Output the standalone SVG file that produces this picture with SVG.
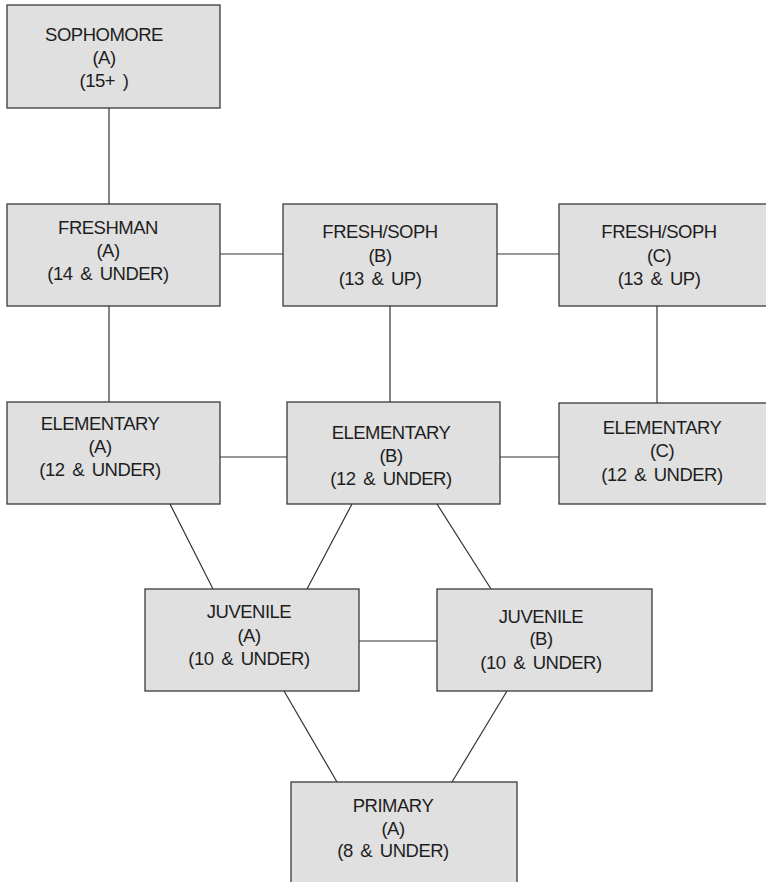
<svg xmlns="http://www.w3.org/2000/svg" width="766" height="882" viewBox="0 0 766 882">
<style>
.box{fill:#e0e0e0;stroke:#3a3a3a;stroke-width:1.3}
.t{font-family:"Liberation Sans",Arial,sans-serif;font-size:18.5px;fill:#1e1e1e;text-anchor:middle;letter-spacing:-0.5px;word-spacing:3px}
.c line{stroke:#333;stroke-width:1.2}
</style>
<rect width="766" height="882" fill="#ffffff"/>
<g class="c" id="connectors">
<line x1="109" y1="108" x2="109" y2="204"/>
<line x1="220" y1="254" x2="283" y2="254"/>
<line x1="497" y1="254" x2="559" y2="254"/>
<line x1="109" y1="306" x2="109" y2="402"/>
<line x1="390" y1="306" x2="390" y2="402"/>
<line x1="657" y1="306" x2="657" y2="403"/>
<line x1="220" y1="457" x2="287" y2="457"/>
<line x1="500" y1="457" x2="559" y2="457"/>
<line x1="170" y1="504" x2="213" y2="589"/>
<line x1="352" y1="504" x2="307" y2="589"/>
<line x1="437" y1="504" x2="491" y2="589"/>
<line x1="359" y1="641" x2="437" y2="641"/>
<line x1="284" y1="691" x2="337" y2="782"/>
<line x1="507" y1="691" x2="452" y2="782"/>
</g>
<g id="sophomore-a">
<rect class="box" x="7" y="5" width="213" height="103"/>
<text class="t" x="104" y="41">SOPHOMORE</text>
<text class="t" x="104" y="64">(A)</text>
<text class="t" x="104" y="87">(15+ )</text>
</g>
<g id="freshman-a">
<rect class="box" x="7" y="204" width="213" height="102"/>
<text class="t" x="108" y="234">FRESHMAN</text>
<text class="t" x="108" y="257">(A)</text>
<text class="t" x="108" y="280">(14 &amp; UNDER)</text>
</g>
<g id="freshsoph-b">
<rect class="box" x="283" y="204" width="214" height="102"/>
<text class="t" x="380" y="238">FRESH/SOPH</text>
<text class="t" x="380" y="262">(B)</text>
<text class="t" x="380" y="285">(13 &amp; UP)</text>
</g>
<g id="freshsoph-c">
<rect class="box" x="559" y="204" width="212" height="102"/>
<text class="t" x="659" y="238">FRESH/SOPH</text>
<text class="t" x="659" y="262">(C)</text>
<text class="t" x="659" y="285">(13 &amp; UP)</text>
</g>
<g id="elementary-a">
<rect class="box" x="7" y="402" width="213" height="102"/>
<text class="t" x="100" y="430">ELEMENTARY</text>
<text class="t" x="100" y="453">(A)</text>
<text class="t" x="100" y="476">(12 &amp; UNDER)</text>
</g>
<g id="elementary-b">
<rect class="box" x="287" y="402" width="213" height="102"/>
<text class="t" x="391" y="439">ELEMENTARY</text>
<text class="t" x="391" y="462">(B)</text>
<text class="t" x="391" y="485">(12 &amp; UNDER)</text>
</g>
<g id="elementary-c">
<rect class="box" x="559" y="403" width="212" height="101"/>
<text class="t" x="662" y="434">ELEMENTARY</text>
<text class="t" x="662" y="457">(C)</text>
<text class="t" x="662" y="481">(12 &amp; UNDER)</text>
</g>
<g id="juvenile-a">
<rect class="box" x="145" y="589" width="214" height="102"/>
<text class="t" x="249" y="618">JUVENILE</text>
<text class="t" x="249" y="642">(A)</text>
<text class="t" x="249" y="665">(10 &amp; UNDER)</text>
</g>
<g id="juvenile-b">
<rect class="box" x="437" y="589" width="215" height="102"/>
<text class="t" x="541" y="623">JUVENILE</text>
<text class="t" x="541" y="645">(B)</text>
<text class="t" x="541" y="669">(10 &amp; UNDER)</text>
</g>
<g id="primary-a">
<rect class="box" x="291" y="782" width="226" height="110"/>
<text class="t" x="393" y="812">PRIMARY</text>
<text class="t" x="393" y="835">(A)</text>
<text class="t" x="393" y="857">(8 &amp; UNDER)</text>
</g>
</svg>
